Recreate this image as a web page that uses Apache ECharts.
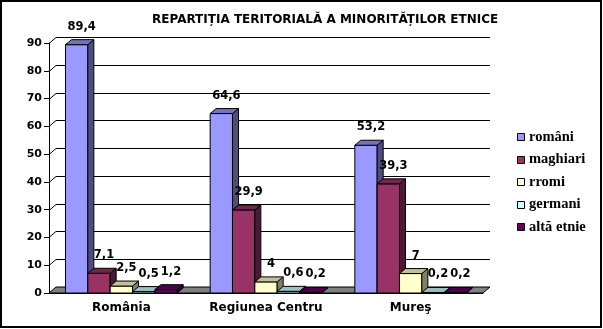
<!DOCTYPE html>
<html><head><meta charset="utf-8">
<script src="https://cdn.jsdelivr.net/npm/echarts@6/dist/echarts.min.js"></script>
<style>html,body{margin:0;padding:0;background:#fff}#c{width:603px;height:329px}</style>
</head><body><div id="c"></div>
<script>
// ---- data ----
const categories = ['România', 'Regiunea Centru', 'Mureş'];
const seriesNames = ['români', 'maghiari', 'rromi', 'germani', 'altă etnie'];
const romani = [89.4, 64.6, 53.2];
const maghiari = [7.1, 29.9, 39.3];
const rromi = [2.5, 4, 7];
const germani = [0.5, 0.6, 0.2];
const altaEtnie = [1.2, 0.2, 0.2];
const yTicks = [0, 10, 20, 30, 40, 50, 60, 70, 80, 90];
const titleText = 'REPARTIȚIA TERITORIALĂ A MINORITĂȚILOR ETNICE';

// ---- style ----
const seriesValues = [romani, maghiari, rromi, germani, altaEtnie];
const FRONT = ['#9999FF', '#993366', '#FFFFCC', '#CCFFFF', '#660066'];
const TOP   = ['#7373C0', '#73264D', '#C0C099', '#99C0C0', '#4D004D'];
const SIDE  = ['#4D4D80', '#4D1A33', '#808066', '#668080', '#330033'];
const SANS = 'DejaVu Sans';
const LEGEND_FONT = 'bold 14.5px "Liberation Serif"';
const WALL = {dx: 7, dy: -6};
const BAR = {dx: 6, dy: -5};
const INNER = 0.772;
const LEGEND_X = 517, LEGEND_Y0 = 137, LEGEND_STEP = 22.5;

const chart = echarts.init(document.getElementById('c'), null, {renderer: 'canvas'});

function fmt(v) { return String(v).replace('.', ','); }

function renderWalls(params, api) {
  const cs = params.coordSys;
  const x0 = cs.x, x1 = cs.x + cs.width;
  const y0 = api.coord([0, 0])[1];
  const children = [];
  children.push({
    type: 'polygon',
    shape: {points: [[x0, y0], [x1, y0], [x1 + WALL.dx, y0 + WALL.dy], [x0 + WALL.dx, y0 + WALL.dy]]},
    style: {fill: '#808080', stroke: '#000', lineWidth: 1}
  });
  yTicks.forEach(t => {
    if (t === yTicks[0]) return;
    const y = Math.round(api.coord([0, t])[1]) + 0.5;
    children.push({
      type: 'polyline',
      shape: {points: [[x0, y], [x0 + WALL.dx, y + WALL.dy], [x1 + WALL.dx, y + WALL.dy]]},
      style: {fill: null, stroke: '#000', lineWidth: 1}
    });
  });
  return {type: 'group', children};
}

function makeRender(si) {
  return function (params, api) {
    const ci = api.value(0), v = api.value(1);
    const base = api.coord([ci, 0]);
    const topPt = api.coord([ci, v]);
    const band = api.size([1, 0])[0];
    const inner = band * INNER;
    const bw = inner / seriesNames.length;
    const x0 = base[0] - inner / 2 + si * bw;
    const x1 = x0 + bw;
    const y0 = base[1], y1 = topPt[1];
    const st = (c) => ({fill: c, stroke: '#000', lineWidth: 1});
    return {
      type: 'group',
      children: [
        {type: 'polygon', shape: {points: [[x0, y1], [x1, y1], [x1, y0], [x0, y0]]}, style: st(FRONT[si])},
        {type: 'polygon', shape: {points: [[x1, y1], [x1 + BAR.dx, y1 + BAR.dy], [x1 + BAR.dx, y0 + BAR.dy], [x1, y0]]}, style: st(SIDE[si])},
        {type: 'polygon', shape: {points: [[x0, y1], [x0 + BAR.dx, y1 + BAR.dy], [x1 + BAR.dx, y1 + BAR.dy], [x1, y1]]}, style: st(TOP[si])},
        {type: 'text', z2: 100, style: {
          text: fmt(v), x: (x0 + x1) / 2 + 5, y: y1 - 18,
          align: 'center', verticalAlign: 'middle',
          fontFamily: SANS, fontWeight: 'bold', fontSize: 11.5, fill: '#000'
        }}
      ]
    };
  };
}

const series = [{
  type: 'custom', name: '_walls', z: 1, silent: true,
  data: [[0, 0]], renderItem: renderWalls, clip: false
}];
seriesNames.forEach((name, si) => {
  series.push({
    type: 'custom', name, z: 2,
    itemStyle: {color: FRONT[si]},
    data: categories.map((c, ci) => [ci, seriesValues[si][ci]]),
    encode: {x: 0, y: 1},
    renderItem: makeRender(si), clip: false
  });
});

// legend (serif text), built from the series names and colours
const legendGraphics = [];
seriesNames.forEach((name, i) => {
  const cy = LEGEND_Y0 + i * LEGEND_STEP;
  legendGraphics.push({
    type: 'rect', silent: true, z: 50,
    shape: {x: LEGEND_X + 0.5, y: Math.round(cy - 4) + 0.5, width: 7, height: 7},
    style: {fill: FRONT[i], stroke: '#000', lineWidth: 1}
  });
  legendGraphics.push({
    type: 'text', silent: true, z: 50, x: LEGEND_X + 12, y: cy,
    style: {text: name, font: LEGEND_FONT, fill: '#000', verticalAlign: 'middle', align: 'left'}
  });
});

chart.setOption({
  animation: false,
  backgroundColor: '#fff',
  title: {
    text: titleText, left: 152, top: 14, padding: 0,
    textStyle: {fontFamily: SANS, fontWeight: 'bold', fontSize: 12, color: '#000'}
  },
  grid: {left: 49, top: 43, width: 434, height: 250},
  xAxis: {
    type: 'category', data: categories,
    axisLine: {lineStyle: {color: '#000', width: 1}},
    axisTick: {length: 5, lineStyle: {color: '#000'}},
    axisLabel: {interval: 0, margin: 9, fontFamily: SANS, fontWeight: 'bold', fontSize: 12, color: '#000'},
    splitLine: {show: false}
  },
  yAxis: {
    type: 'value', min: yTicks[0], max: yTicks[yTicks.length - 1], interval: yTicks[1] - yTicks[0],
    axisLine: {show: true, lineStyle: {color: '#000', width: 1}},
    axisTick: {show: true, length: 5, lineStyle: {color: '#000'}},
    axisLabel: {margin: 7, fontFamily: SANS, fontWeight: 'bold', fontSize: 11, color: '#000'},
    splitLine: {show: false}
  },
  graphic: [{
    type: 'rect', shape: {x: 1, y: 1, width: 600, height: 326},
    style: {fill: null, stroke: '#000', lineWidth: 2}, z: 100, silent: true
  }].concat(legendGraphics),
  series
});
</script></body></html>
